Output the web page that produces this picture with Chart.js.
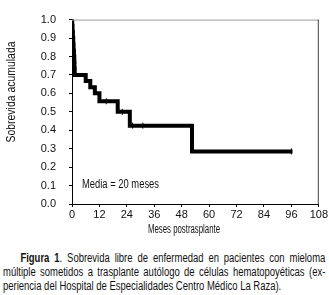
<!DOCTYPE html>
<html>
<head>
<meta charset="utf-8">
<script src="https://cdn.jsdelivr.net/npm/chart.js@4/dist/chart.umd.min.js"></script>
<style>
  html, body { margin: 0; padding: 0; background: #fff; }
  #wrap { position: relative; width: 329px; height: 295px; overflow: hidden; }
  #c { position: absolute; left: 0; top: 0; }
  #cap {
    position: absolute; left: 3px; top: 251px; width: 408px;
    transform: scaleX(0.79); transform-origin: 0 0;
    font-family: 'Liberation Sans', Arial, sans-serif;
    font-size: 12px; line-height: 14px; color: #111;
  }
  #cap div { white-space: nowrap; }
  #cap .j { text-align: justify; text-align-last: justify; }
  #cap .i { padding-left: 22px; }
  #cap b { font-weight: bold; }
</style>
</head>
<body>
<div id="wrap">
  <canvas id="c" width="329" height="240"></canvas>
  <div id="cap">
    <div class="j i"><b>Figura 1</b>. Sobrevida libre de enfermedad en pacientes con mieloma</div>
    <div class="j">múltiple sometidos a trasplante autólogo de células hematopoyéticas (ex-</div>
    <div>periencia del Hospital de Especialidades Centro Médico La Raza).</div>
  </div>
</div>
<script>
// Kaplan-Meier step data (months, cumulative survival)
const months   = [0, 0.1, 0.25, 0.4, 0.55, 0.7, 0.85, 1.0, 1.1, 1.2, 6, 8, 10, 12, 20, 25.3, 52.5, 96.5];
const survival = [1.0, 0.967, 0.933, 0.9, 0.867, 0.833, 0.8, 0.767, 0.733, 0.7, 0.667, 0.633, 0.6, 0.557, 0.5, 0.425, 0.285, 0.285];
// censored observations
const censMonths   = [15, 22, 26.5, 31, 96];
const censSurvival = [0.557, 0.5, 0.425, 0.425, 0.285];
const xTicks = [0, 12, 24, 36, 48, 60, 72, 84, 96, 108];
const yTicks = [0.0, 0.1, 0.2, 0.3, 0.4, 0.5, 0.6, 0.7, 0.8, 0.9, 1.0];
const yTitle = 'Sobrevida acumulada';
const xTitle = 'Meses postrasplante';
const note = 'Media = 20 meses';

const FONT = "'Liberation Sans', Arial, sans-serif";

// draw text squeezed horizontally to a given width (emulates a narrow face)
function fitText(ctx, text, x, y, width, size, rot) {
  ctx.save();
  ctx.font = size + 'px ' + FONT;
  const w = ctx.measureText(text).width;
  ctx.translate(x, y);
  if (rot) ctx.rotate(rot);
  ctx.scale(width / w, 1);
  ctx.textAlign = 'center';
  ctx.textBaseline = 'middle';
  ctx.fillText(text, 0, 0);
  ctx.restore();
}

const extras = {
  id: 'extras',
  afterDraw(chart) {
    const { ctx, chartArea: a } = chart;
    ctx.save();
    ctx.lineWidth = 1;
    ctx.strokeStyle = '#9a9a9a';
    ctx.beginPath(); ctx.moveTo(a.left, a.top + 0.5); ctx.lineTo(a.right, a.top + 0.5); ctx.stroke();
    ctx.strokeStyle = '#444';
    ctx.beginPath(); ctx.moveTo(a.right - 0.5, a.top); ctx.lineTo(a.right - 0.5, a.bottom); ctx.stroke();
    ctx.fillStyle = '#111';
    fitText(ctx, note, a.left + 48.5, a.bottom - 19, 77, 12.5);
    fitText(ctx, xTitle, 184, 230, 72, 12);
    fitText(ctx, yTitle, 12, 92, 101, 12.5, -Math.PI / 2);
    ctx.restore();
  }
};

new Chart(document.getElementById('c'), {
  type: 'line',
  data: {
    datasets: [
      {
        data: months.map((m, i) => ({ x: m, y: survival[i] })),
        borderColor: '#000',
        borderWidth: 4,
        stepped: 'before',
        pointRadius: 0,
        fill: false
      },
      {
        data: censMonths.map((m, i) => ({ x: m, y: censSurvival[i] })),
        showLine: false,
        pointStyle: 'line',
        rotation: 90,
        pointRadius: 3,
        borderColor: '#000',
        borderWidth: 1,
        pointBorderColor: '#000'
      }
    ]
  },
  options: {
    responsive: false,
    animation: false,
    devicePixelRatio: 1,
    plugins: { legend: { display: false }, tooltip: { enabled: false } },
    layout: { padding: { left: 0, top: 12, right: 10, bottom: 0 } },
    scales: {
      x: {
        type: 'linear', min: 0, max: 108,
        afterFit: s => { s.height = 36; },
        afterBuildTicks: s => { s.ticks = xTicks.map(v => ({ value: v })); },
        ticks: { color: '#111', font: { family: FONT, size: 11 }, padding: 1, maxRotation: 0, autoSkip: false },
        grid: { drawOnChartArea: false, drawTicks: true, tickLength: 3, color: '#000' },
        border: { display: true, color: '#000', width: 1 }
      },
      y: {
        min: 0, max: 1,
        afterFit: s => { s.width = 72; },
        afterBuildTicks: s => { s.ticks = yTicks.map(v => ({ value: v })); },
        ticks: { color: '#111', font: { family: FONT, size: 11 }, padding: 13, callback: v => Number(v).toFixed(1), autoSkip: false },
        grid: { drawOnChartArea: false, drawTicks: true, tickLength: 3, color: '#000' },
        border: { display: true, color: '#000', width: 1 }
      }
    }
  },
  plugins: [extras]
});
</script>
</body>
</html>
